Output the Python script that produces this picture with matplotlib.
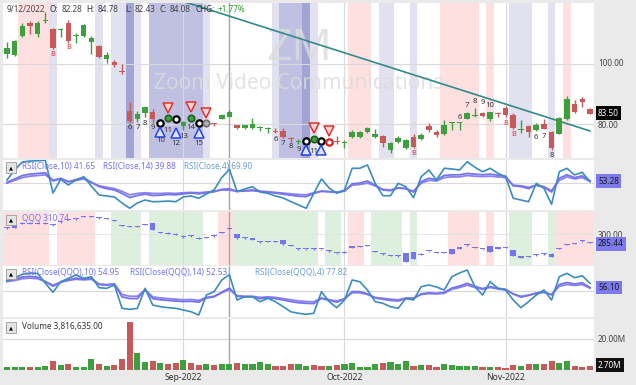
import matplotlib
matplotlib.use("Agg")
import matplotlib.pyplot as plt
import numpy as np

plt.rcParams['font.family'] = ['Noto Sans', 'DejaVu Sans']

# ZM daily bars, 1 Aug 2022 - 16 Nov 2022 (77 sessions)
zm_open = [103.3, 103.0, 109.3, 113.6, 109.9, 114.1, 111.6, 111.4, 113.6, 109.1,
           109.3, 107.3, 106.0, 101.7, 100.7, 97.7, 84.4, 81.8, 83.8, 84.1,
           80.2, 82.4, 82.0, 79.4, 82.4, 80.7, 80.3, 80.2, 81.8, 82.28,
           79.8, 78.8, 78.8, 78.7, 78.4, 77.5, 77.8, 75.2, 74.05, 74.2,
           75.3, 74.7, 74.0, 74.2, 73.7, 75.8, 75.8, 77.5, 75.8, 76.1,
           71.5, 74.1, 72.1, 75.8, 75.1, 79.4, 77.5, 76.8, 80.3, 80.3,
           81.8, 82.6, 83.8, 81.8, 83.5, 85.4, 83.1, 78.0, 79.4, 78.1,
           80.1, 77.5, 76.8, 81.8, 86.7, 88.4, 85.1]
zm_high = [107.3, 108.0, 113.6, 114.3, 114.3, 117.2, 111.9, 111.9, 114.6, 110.3,
           113.3, 109.3, 106.3, 104.0, 101.3, 100.0, 87.4, 84.4, 85.7, 85.1,
           81.5, 82.8, 82.6, 81.0, 82.8, 81.0, 80.9, 80.4, 83.3, 84.78,
           79.9, 79.9, 82.1, 79.4, 79.1, 78.8, 78.8, 75.8, 75.1, 75.5,
           75.8, 75.2, 74.7, 76.1, 74.8, 78.1, 77.8, 79.1, 78.4, 76.5,
           74.1, 76.1, 75.1, 76.8, 77.1, 80.4, 78.1, 81.4, 80.9, 80.6,
           84.0, 85.4, 84.1, 84.2, 84.1, 86.1, 83.8, 81.4, 79.8, 80.4,
           81.8, 77.8, 82.4, 89.4, 88.1, 89.1, 85.4]
zm_low = [102.0, 102.6, 108.9, 109.9, 108.9, 113.6, 105.0, 108.9, 107.0, 107.0,
          108.9, 103.3, 102.0, 100.3, 99.0, 96.7, 80.8, 80.8, 82.4, 80.4,
          79.8, 81.5, 81.2, 78.1, 81.5, 80.0, 80.0, 79.4, 81.6, 82.43,
          78.6, 78.5, 78.6, 77.8, 77.1, 77.1, 75.5, 74.1, 73.5, 73.8,
          74.6, 74.0, 73.8, 73.5, 72.1, 75.6, 75.5, 77.1, 75.5, 72.5,
          70.5, 73.8, 71.8, 72.1, 74.8, 77.5, 75.8, 76.5, 78.1, 78.1,
          81.6, 82.4, 82.4, 81.1, 82.4, 82.4, 78.4, 77.1, 75.8, 77.8,
          78.4, 71.5, 76.8, 81.4, 83.8, 85.7, 83.4]
zm_close = [105.3, 107.6, 112.6, 112.6, 113.6, 114.3, 105.3, 111.7, 107.6, 109.4,
            112.9, 108.6, 102.3, 103.0, 99.7, 97.3, 81.1, 83.4, 85.7, 81.8,
            80.6, 81.9, 81.5, 80.8, 81.9, 80.3, 80.6, 80.0, 83.1, 84.08,
            78.8, 79.8, 80.1, 78.9, 78.6, 77.4, 75.8, 75.0, 74.2, 74.6,
            74.9, 74.4, 74.3, 74.05, 73.9, 77.5, 77.5, 78.8, 76.8, 73.8,
            73.8, 75.5, 74.8, 72.5, 76.5, 78.1, 76.5, 79.8, 80.8, 80.5,
            83.8, 82.8, 82.8, 84.1, 83.35, 83.1, 78.8, 78.2, 77.5, 79.8,
            78.4, 72.1, 82.1, 88.4, 84.1, 87.4, 83.5]
zm_volume_m = [2.2, 2.2, 2.2, 1.7, 2.2, 2.6, 5.8, 3.2, 3.7, 2.2,
               2.2, 6.9, 3.7, 2.6, 3.2, 6.9, 31.2, 10.8, 4.9, 5.8,
               4.7, 4.1, 4.7, 6.5, 4.3, 3.4, 4.1, 3.2, 3.7, 3.82,
               4.3, 3.7, 3.7, 5.4, 4.1, 2.6, 2.6, 3.7, 3.7, 2.6,
               3.2, 2.6, 2.6, 3.2, 3.7, 4.3, 1.9, 1.9, 4.1, 4.7,
               5.2, 4.1, 5.8, 2.6, 3.2, 3.2, 1.9, 3.9, 3.2, 2.6,
               2.6, 2.6, 2.2, 2.2, 1.9, 1.5, 3.2, 2.6, 3.7, 3.7,
               3.7, 5.8, 4.7, 5.8, 2.6, 2.2, 2.7]

rsi10 = [51, 56, 61, 63, 64, 65, 54, 57, 52, 55,
         58, 51, 45, 42, 40, 35, 29, 32, 34, 32,
         32.5, 33.5, 33, 34.5, 35.5, 34.5, 36, 37.5, 41, 41.65,
         38, 39, 40, 38, 37, 35.5, 34, 32.5, 31, 30.5,
         35, 38.5, 37.5, 36.5, 38.5, 49, 50, 53, 47, 40,
         39, 43, 42, 37, 52, 57, 55, 61, 62, 62,
         64, 63, 62, 63, 61.5, 60, 46, 45, 42, 47,
         44, 37, 57, 62, 58, 60.5, 53.28]
rsi14 = [50, 54, 58, 60, 61, 62, 53, 56, 52, 54,
         56, 51, 46, 44, 42, 38, 33, 35, 36, 35,
         35, 35.5, 35, 36, 36.5, 36, 37, 38, 40, 39.88,
         38, 38.5, 39, 38, 37.5, 36.5, 35.5, 34.5, 33.5, 33,
         36, 38, 37.5, 37, 38.5, 47, 48, 50, 46, 41,
         40, 43, 42, 38, 50, 54, 53, 58, 59, 59,
         61, 60, 59.5, 60, 59, 58, 47, 46, 44, 47,
         45, 39, 54, 59, 56, 58, 52.6]
rsi4 = [54.5, 69, 80.6, 82, 82.5, 83, 35.6, 55.5, 47.3, 54.5,
        59.3, 45.8, 32.8, 31.3, 29.9, 21.2, 13.5, 21.2, 25.5, 23,
        23.3, 24, 23, 30, 31.3, 28, 34.2, 40, 58, 69.9,
        37.5, 41.5, 44.8, 37, 35.2, 31.3, 28.4, 23.3, 18.3, 13.5,
        35.2, 56, 42.9, 35.2, 40, 71.5, 71.5, 76.3, 49.7, 31.7,
        31.7, 49.7, 44.8, 28.8, 59.3, 69, 54.5, 71.5, 70.5, 69,
        81, 73, 66.5, 71.5, 64.2, 59.3, 28, 25.5, 23, 49.7,
        42.5, 19.3, 66.5, 71.5, 61.8, 65.7, 52]

qqq_open = [310.0, 311.5, 318.0, 320.0, 318.0, 318.5, 317.0, 320.5, 325.0, 326.0,
            329.5, 330.5, 328.5, 327.0, 324.5, 316.0, 313.5, 312.5, 316.5, 319.0,
            303.5, 302.5, 300.5, 297.0, 296.5, 294.0, 294.0, 296.5, 302.5, 309.5,
            300.5, 293.0, 292.0, 287.0, 286.5, 286.5, 290.2, 281.0, 275.5, 274.0,
            275.0, 274.0, 271.5, 267.5, 268.0, 277.0, 278.0, 279.5, 271.0, 266.5,
            263.5, 262.0, 253.0, 269.0, 265.0, 270.5, 268.0, 268.0, 266.0, 276.5,
            281.0, 277.5, 274.5, 279.8, 275.5, 276.5, 272.9, 260.5, 261.0, 263.5,
            265.5, 266.6, 275.0, 282.0, 284.0, 288.0, 286.0]
qqq_high = [312.5, 316.5, 320.5, 321.0, 320.5, 321.0, 318.0, 323.0, 327.0, 327.5,
            331.5, 332.0, 329.5, 328.5, 325.0, 316.5, 314.5, 314.0, 318.5, 319.5,
            304.5, 303.5, 301.5, 298.0, 299.0, 295.0, 296.0, 298.5, 304.5, 311.5,
            301.0, 294.5, 293.0, 288.0, 289.0, 288.5, 291.0, 281.5, 276.0, 275.5,
            276.0, 275.5, 272.5, 268.5, 270.5, 279.5, 280.0, 281.5, 271.5, 267.0,
            264.5, 264.0, 268.0, 270.0, 267.0, 272.0, 269.5, 270.0, 274.5, 277.0,
            282.5, 278.0, 275.5, 280.5, 277.0, 278.5, 273.5, 261.5, 262.5, 265.5,
            267.0, 267.0, 277.0, 284.0, 285.5, 290.5, 286.5]
qqq_low = [309.0, 310.5, 317.0, 317.5, 317.0, 317.5, 314.5, 320.0, 324.5, 325.0,
           329.0, 329.5, 326.5, 326.5, 322.5, 314.0, 312.0, 312.0, 316.0, 307.0,
           301.5, 300.5, 299.0, 294.0, 296.0, 292.0, 293.5, 296.0, 302.0, 309.0,
           292.5, 292.0, 290.5, 285.0, 286.0, 286.0, 282.0, 279.0, 273.5, 273.5,
           273.0, 273.5, 270.0, 266.0, 267.5, 276.5, 277.5, 279.0, 269.0, 264.5,
           262.0, 261.0, 252.0, 257.0, 264.5, 270.0, 267.0, 267.0, 265.5, 274.5,
           280.5, 276.0, 273.0, 269.5, 275.0, 276.0, 262.5, 259.0, 260.5, 263.0,
           265.0, 261.0, 274.5, 281.5, 283.5, 287.5, 284.5]
qqq_close = [311.5, 315.5, 320.0, 318.5, 319.5, 320.0, 315.5, 322.5, 326.5, 327.0,
             331.0, 330.0, 327.5, 328.0, 323.0, 315.0, 313.0, 313.5, 317.5, 307.4,
             302.5, 301.0, 299.5, 295.5, 298.5, 292.5, 295.5, 298.0, 304.0, 310.74,
             293.1, 294.0, 291.0, 286.0, 288.0, 287.5, 282.8, 280.0, 274.5, 275.0,
             274.0, 275.0, 270.5, 267.0, 270.0, 279.0, 279.0, 281.0, 270.0, 265.5,
             263.0, 263.0, 267.2, 257.5, 266.5, 271.5, 268.5, 268.5, 274.0, 275.5,
             282.0, 276.5, 274.0, 270.0, 276.5, 277.5, 263.1, 260.0, 262.0, 265.0,
             266.5, 261.4, 276.5, 283.5, 285.0, 289.0, 285.44]

qrsi10 = [67, 70, 74, 75, 73.5, 66, 58, 65, 69, 72,
          70, 72, 61, 60, 62, 40, 37, 37, 52, 37,
          35, 34, 33, 32, 32.5, 31, 38, 40, 48, 54.95,
          41, 40, 40, 37, 38.5, 37, 34.5, 32, 30, 29,
          28.5, 37.5, 34, 31, 36, 49, 49, 45, 38, 36,
          34, 33, 37, 37, 45, 47, 46, 47.5, 55, 58.5,
          63, 58, 54, 57.5, 54.5, 53, 45, 39.5, 42.5, 46.5,
          48.5, 43.5, 61, 64.5, 62, 64, 56.1]
qrsi14 = [66, 68, 71, 72, 71, 66, 60, 65, 68, 70,
          69, 70, 62, 61, 62, 44, 41, 41, 52, 40,
          38, 37, 36, 35, 35.5, 34, 39, 41, 47, 52.53,
          42, 41, 41, 39, 40, 39, 37, 35, 33, 32,
          31.5, 38, 35, 33, 37, 47, 47, 44, 39, 37.5,
          36, 35, 38, 38, 44, 45.5, 45, 46, 53, 56,
          60, 56, 53, 56, 53.5, 52, 45, 41, 43, 46,
          47.5, 44, 58, 61, 59.5, 61, 54.8]
qrsi4 = [67.1, 72.7, 78.5, 80.8, 79.9, 63.2, 47.8, 65.9, 71.7, 77.3,
         71.7, 74.4, 55.6, 54.6, 60.3, 20.4, 18.7, 20.4, 54.6, 26.1,
         23.2, 21.5, 20.4, 17.5, 14.6, 9.0, 43.2, 48.8, 68.8, 77.82,
         34.6, 40.3, 40.3, 31.7, 37.5, 31.7, 23.2, 14.6, 11.9, 10.2,
         12.0, 48.8, 31.7, 21.5, 34.6, 68.8, 65.9, 51.7, 31.7, 29.0,
         23.2, 20.4, 37.5, 34.6, 57.3, 60.3, 56.8, 51.7, 74.4, 80.8,
         85.9, 57.3, 43.2, 65.9, 54.6, 51.7, 34.6, 21.5, 31.7, 43.2,
         51.7, 34.6, 74.4, 80.2, 72.7, 76.1, 63.2]

# background state runs (first bar, last bar, state)
price_bands = [(2, 5, 'pink'), (6, 6, 'light'), (12, 12, 'light'), (14, 15, 'light'),
               (16, 16, 'dark'), (17, 17, 'light'), (19, 25, 'mid'), (26, 26, 'light'),
               (35, 35, 'light'), (36, 38, 'mid'), (39, 39, 'dark'), (40, 40, 'light'),
               (45, 47, 'pink'), (49, 50, 'light'), (53, 53, 'light'), (57, 61, 'pink'),
               (63, 63, 'pink'), (66, 68, 'light'), (71, 71, 'light'), (73, 73, 'pink')]
qqq_bands = [(0, 5, 'pink'), (7, 11, 'pink'), (14, 17, 'green'), (19, 25, 'green'),
             (28, 29, 'pink'), (30, 40, 'green'), (42, 43, 'green'), (45, 46, 'pink'),
             (48, 51, 'green'), (53, 53, 'green'), (58, 61, 'pink'), (63, 63, 'pink'),
             (66, 68, 'green'), (71, 71, 'green'), (72, 76, 'pink')]

# signal markers: (bar, price)
circles_black = [(20, 80.4), (22, 81.8), (25, 80.4), (39, 74.5), (41, 74.5)]
circles_green = [(21, 82.1), (24, 82.1), (40, 75.1)]
circles_grey = [(26, 80.4)]
circles_red = [(42, 74.2)]
tri_down = [(21, 85.4), (24, 85.7), (26, 83.7), (40, 78.8), (42, 77.8)]
tri_up = [(20, 77.4), (22, 77.1), (25, 77.1), (39, 71.5), (41, 71.5)]
count_labels = [(16, '6', 79.1), (17, '7', 78.8), (18, '8', 80.4), (19, '9', 78.8),
                (20, '10', 74.5), (21, '11', 78.1), (22, '12', 73.8), (23, '13', 75.8),
                (24, '14', 78.8), (25, '15', 73.8),
                (35, '6', 75.1), (36, '7', 73.5), (37, '8', 72.5), (38, '9', 71.5),
                (40, '11', 71.1),
                (59, '6', 82.4), (60, '7', 86.1), (61, '8', 87.4), (62, '9', 87.1),
                (63, '10', 86.1),
                (69, '6', 75.5), (70, '7', 76.1), (71, '8', 69.5)]
b_labels = [(6, 103.0), (8, 105.3), (53, 70.2), (65, 80.4), (66, 76.5)]
trend_x = [22, 76]
trend_y = [121.5, 77.8]

month_pos = [23, 44, 65]
month_labels = ['Sep-2022', 'Oct-2022', 'Nov-2022']
cross_bar = 29

GREEN, RED = '#3E9F3E', '#C65A5A'
PURPLE, STEEL = '#7474EC', '#3D8CC0'
BAND_COLORS = {'pink': '#FFE0E0', 'light': '#E1E1F0', 'mid': '#C0C0E2',
               'dark': '#A3A3D4', 'green': '#DDEFDD'}
FS = 5.9

W, H = 636, 385
fig = plt.figure(figsize=(6.36, 3.85), dpi=100, facecolor='#EAEAEA')


def fx(px):
    return px / W


def fy(py):
    return 1 - py / H


def panel(top, bottom, ylim):
    ax = fig.add_axes([fx(3), fy(bottom), fx(594) - fx(3), (bottom - top) / H])
    ax.set_xlim(-0.52, 76.53)
    ax.set_ylim(*ylim)
    ax.set_facecolor('white')
    ax.set_xticks([])
    ax.set_yticks([])
    for s in ax.spines.values():
        s.set_visible(False)
    for m in month_pos:
        ax.axvline(m, color='#D9D9D9', lw=0.8, zorder=1)
    ax.axvline(cross_bar, color='#A5A5A5', lw=1, zorder=2)
    return ax


def bands(ax, runs):
    for a, b, kind in runs:
        ax.axvspan(a - 0.5, b + 0.5, color=BAND_COLORS[kind], lw=0, zorder=0)


def candles(ax, o, h, l, c, up, dn, width, minh):
    x = np.arange(len(o))
    o, h, l, c = map(np.asarray, (o, h, l, c))
    col = [up if cc >= oo else dn for oo, cc in zip(o, c)]
    ax.vlines(x, l, h, colors=col, lw=1, zorder=4)
    ax.bar(x, np.maximum(np.abs(c - o), minh), width, bottom=np.minimum(o, c),
           color=col, lw=0, zorder=5)
    return col


# price panel
ax_p = panel(3, 158, (68.83, 120.2))
bands(ax_p, price_bands)
for lvl in (100, 80):
    ax_p.axhline(lvl, color='#D9D9D9', lw=0.8, zorder=1)
ax_p.text(38.1, 105.0, 'ZM', fontsize=32, fontweight='bold', color='#DCDCDC',
          alpha=0.8, ha='center', va='center', zorder=2)
ax_p.text(38.0, 93.4, 'Zoom Video Communications', fontsize=15, fontweight='bold',
          color='#DCDCDC', alpha=0.8, ha='center', va='center', zorder=2)
ax_p.plot(trend_x, trend_y, color='#328A8A', lw=1.2, zorder=3)
vol_colors = candles(ax_p, zm_open, zm_high, zm_low, zm_close, GREEN, RED, 0.72, 0.33)

for i, p in circles_black:
    ax_p.plot(i, p, 'o', ms=4.6, mfc='white', mec='black', mew=1.6, zorder=7)
for i, p in circles_green:
    ax_p.plot(i, p, 'o', ms=4.6, mfc='#3EA43E', mec='#1E5E1E', mew=1.2, zorder=7)
for i, p in circles_grey:
    ax_p.plot(i, p, 'o', ms=4.6, mfc='#B0B0B0', mec='#6E6E6E', mew=1.2, zorder=7)
for i, p in circles_red:
    ax_p.plot(i, p, 'o', ms=4.6, mfc='white', mec='#E02020', mew=1.6, zorder=7)
for i, p in tri_down:
    ax_p.plot(i, p, 'v', ms=7, mfc='#FFD6D6', mec='#E03030', mew=1.1, zorder=7)
for i, p in tri_up:
    ax_p.plot(i, p, '^', ms=7, mfc='#DDE3FF', mec='#2545E8', mew=1.1, zorder=7)
for i, s, p in count_labels:
    ax_p.text(i, p, s, fontsize=5.6, color='#333333', ha='center', va='center', zorder=8)
for i, p in b_labels:
    ax_p.text(i, p, 'B', fontsize=5.3, color='#E03535', ha='center', va='center', zorder=8)

# RSI panel
ax_r = panel(160, 210, (11, 83.5))
ax_r.axhline(50, color='#D9D9D9', lw=0.8, zorder=1)
x = np.arange(len(rsi4))
ax_r.plot(x, rsi14, color='#8C80F2', lw=1.3, zorder=3)
ax_r.plot(x, rsi10, color=PURPLE, lw=1.3, zorder=3)
ax_r.plot(x, rsi4, color=STEEL, lw=1.2, zorder=4)

# QQQ panel
ax_q = panel(212, 265, (247.1, 338.4))
bands(ax_q, qqq_bands)
ax_q.axhline(300, color='#E2E2E2', lw=0.6, zorder=1)
candles(ax_q, qqq_open, qqq_high, qqq_low, qqq_close, PURPLE, PURPLE, 0.72, 1.8)

# QQQ RSI panel
ax_qr = panel(266, 317, (5.6, 92.7))
ax_qr.axhline(50, color='#D9D9D9', lw=0.8, zorder=1)
ax_qr.plot(x, qrsi14, color='#8C80F2', lw=1.3, zorder=3)
ax_qr.plot(x, qrsi10, color=PURPLE, lw=1.3, zorder=3)
ax_qr.plot(x, qrsi4, color=STEEL, lw=1.2, zorder=4)

# volume panel
ax_v = panel(319, 370, (0, 32.9))
ax_v.axhline(20, color='#D9D9D9', lw=0.8, zorder=1)
ax_v.bar(x, zm_volume_m, 0.8, color=vol_colors, lw=0, zorder=3)
ax_v.set_xticks(month_pos)
ax_v.set_xticklabels(month_labels, fontsize=FS + 0.3, color='#333333')
ax_v.tick_params(axis='x', length=0, pad=2.5)

# header line
hdr = [(7, '9/12/2022', 'normal', '#444444'), (50, 'O:', 'bold', '#333333'),
       (62, '82.28', 'normal', '#444444'), (86, 'H:', 'bold', '#333333'),
       (98, '84.78', 'normal', '#444444'), (125, 'L:', 'bold', '#333333'),
       (135, '82.43', 'normal', '#444444'), (159, 'C:', 'bold', '#333333'),
       (170, '84.08', 'normal', '#444444'), (196, 'CHG:', 'bold', '#333333'),
       (218, '+1.77%', 'normal', '#2E9A2E')]
for px, s, wgt, col in hdr:
    fig.text(fx(px), fy(9), s, fontsize=FS, fontweight=wgt, color=col, va='center')

# panel captions and toggle buttons
for py in (167.5, 220, 274, 327.5):
    fig.text(fx(11), fy(py), '▲', fontsize=3.8, ha='center', va='center', color='black',
             family='DejaVu Sans',
             bbox=dict(boxstyle='square,pad=0.55', fc='#E4E4E4', ec='#9A9A9A', lw=0.6))
caps = [(22, 167, 'RSI(Close,10) 41.65', PURPLE), (103, 167, 'RSI(Close,14) 39.88', PURPLE),
        (184, 167, 'RSI(Close,4) 69.90', '#6A9FD0'), (22, 218, 'QQQ 310.74', PURPLE),
        (22, 272, 'RSI(Close(QQQ),10) 54.95', PURPLE),
        (130, 272, 'RSI(Close(QQQ),14) 52.53', PURPLE),
        (255, 272, 'RSI(Close(QQQ),4) 77.82', '#6A9FD0'),
        (22, 326, 'Volume 3,816,635.00', '#333333')]
for px, py, s, col in caps:
    fig.text(fx(px), fy(py), s, fontsize=FS, color=col, va='center')

# right-hand scale labels
for py, s in ((64, '100.00'), (125, '80.00'), (235, '300.00'), (339, '20.00M')):
    fig.text(fx(598), fy(py), s, fontsize=FS, color='#444444', va='center')
boxes = [(113, '83.50', 'black', 'white'), (181, '53.28', '#7B7BEE', '#1A1A1A'),
         (244, '285.44', '#7B7BEE', '#1A1A1A'), (287.5, '56.10', '#7B7BEE', '#1A1A1A'),
         (365, '2.70M', '#111111', 'white')]
for py, s, fc, tc in boxes:
    fig.text(fx(598), fy(py), s, fontsize=FS, color=tc, va='center', zorder=5,
             bbox=dict(boxstyle='square,pad=0.3', fc=fc, ec='none'))

fig.savefig('out.png', dpi=100, facecolor=fig.get_facecolor())
